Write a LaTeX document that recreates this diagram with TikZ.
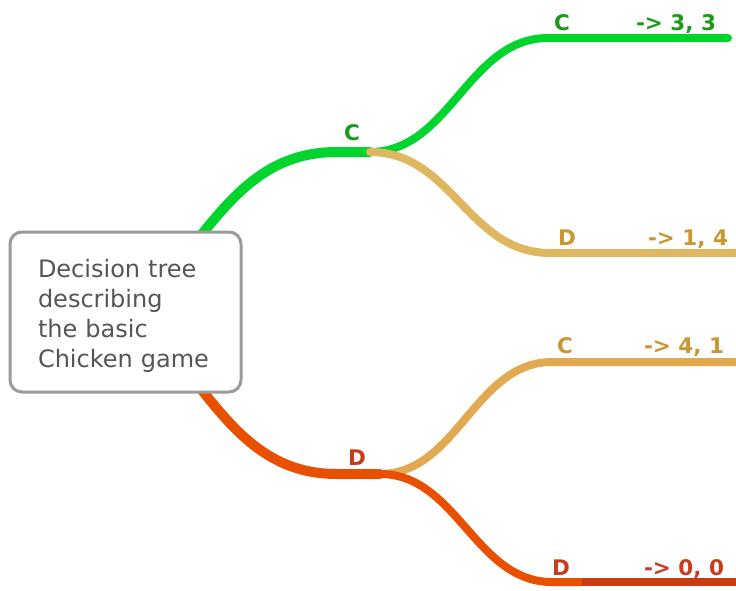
\documentclass[tikz,border=0pt]{standalone}
\usepackage{fontspec}
\setmainfont{DejaVu Sans}
\usetikzlibrary{backgrounds}
\definecolor{lgreen}{RGB}{0,212,45}
\definecolor{tgreen}{RGB}{25,155,25}
\definecolor{ltan}{RGB}{222,183,96}
\definecolor{ltanb}{RGB}{226,170,80}
\definecolor{ttan}{RGB}{200,150,50}
\definecolor{lorange}{RGB}{232,80,0}
\definecolor{dorange}{RGB}{200,60,20}
\definecolor{torange}{RGB}{200,60,30}
\definecolor{boxgray}{RGB}{155,155,155}
\definecolor{textgray}{RGB}{85,85,85}
\begin{document}
\begin{tikzpicture}[x=1pt,y=-1pt,
  trunk/.style={line width=10pt, line cap=round},
  branch/.style={line width=8pt, line cap=round},
  lbl/.style={font=\bfseries\fontsize{21.5}{25}\selectfont, inner sep=0pt, anchor=base}]
\useasboundingbox (0,0) rectangle (736,590);
\node[draw=boxgray, line width=3pt, rounded corners=12pt, fill=white,
      minimum width=231pt, minimum height=160pt, text width=175pt,
      inner xsep=28pt, inner ysep=0pt, align=left,
      font=\fontsize{24}{30}\selectfont, text=textgray] (box) at (125.5,312)
      {\rule{0pt}{25pt}Decision tree\\describing\\the basic\\Chicken game};
\coordinate (g0) at (165,280);
\coordinate (g1) at (337,152);
\coordinate (j1) at (370,152);
\coordinate (cc) at (548,38);
\coordinate (ccend) at (728,38);
\coordinate (cd) at (550,253);
\coordinate (cdend) at (740,253);
\coordinate (o0) at (165,344);
\coordinate (o1) at (337,474);
\coordinate (j2) at (380,474);
\coordinate (dc) at (552,362);
\coordinate (dcend) at (740,362);
\coordinate (dd) at (552,582);
\coordinate (ddmid) at (582,582);
\coordinate (ddend) at (740,582);
\begin{scope}[on background layer]
\draw[trunk, lgreen] (g0) .. controls (219,216) and (253,152) .. (g1) -- (j1);
\draw[branch, lgreen] (j1) .. controls (450,152) and (468,38) .. (cc) -- (ccend);
\draw[branch, ltan] (j1) .. controls (452,152) and (468,253) .. (cd) -- (cdend);
\draw[trunk, lorange] (o0) .. controls (219,408) and (253,474) .. (o1) -- (j2);
\draw[branch, ltanb] (j2) .. controls (457,474) and (475,362) .. (dc) -- (dcend);
\draw[branch, lorange] (j2) .. controls (457,474) and (475,582) .. (dd) -- (ddmid);
\draw[branch, dorange, line cap=butt] (ddmid) -- (ddend);
\end{scope}
\node[lbl, text=tgreen] (lc) at (352,140) {C};
\node[lbl, text=tgreen] (lcc) at (562,30) {C};
\node[lbl, text=tgreen] (pcc) at (676,30) {-> 3, 3};
\node[lbl, text=ttan] (lcd) at (567,245) {D};
\node[lbl, text=ttan] (pcd) at (688,245) {-> 1, 4};
\node[lbl, text=torange] (ld) at (357,465) {D};
\node[lbl, text=ttan] (ldc) at (565,353) {C};
\node[lbl, text=ttan] (pdc) at (684,353) {-> 4, 1};
\node[lbl, text=torange] (ldd) at (561,575) {D};
\node[lbl, text=torange] (pdd) at (684,575) {-> 0, 0};
\end{tikzpicture}
\end{document}
